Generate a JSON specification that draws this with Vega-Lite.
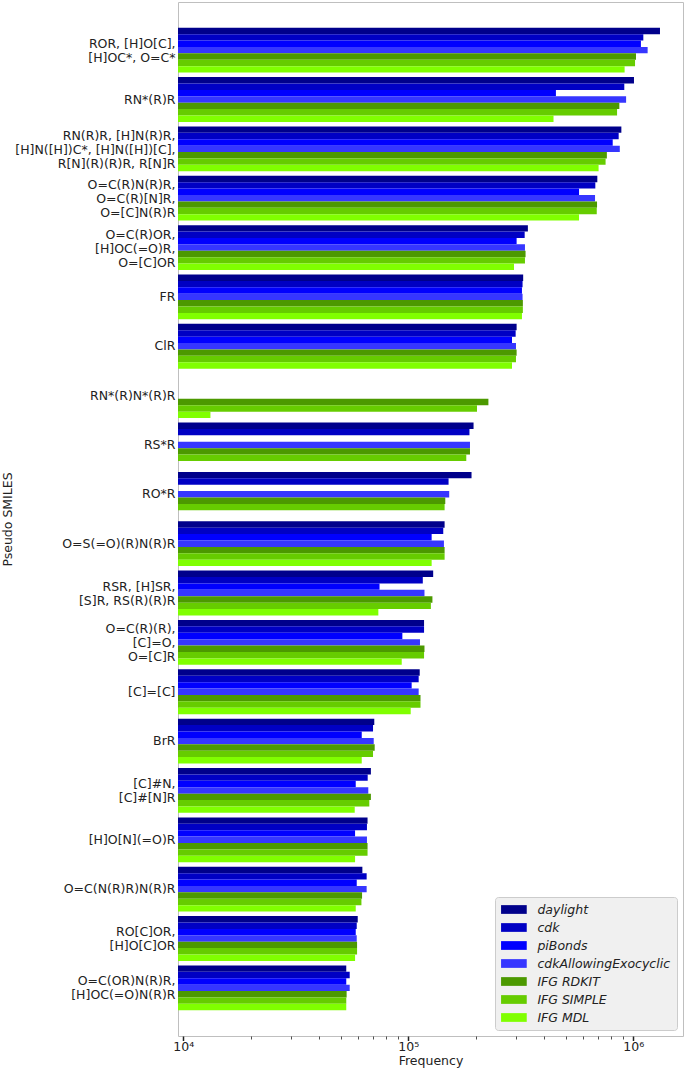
{
  "$schema": "https://vega.github.io/schema/vega-lite/v6.json",
  "autosize": {"type": "none"},
  "padding": {"left": 178, "top": 2, "right": 2, "bottom": 33},
  "width": 505,
  "height": 1034,
  "background": "white",
  "config": {
    "font": "DejaVu Sans",
    "view": {"stroke": "#bfbfbf", "strokeWidth": 1},
    "axis": {"labelFont": "DejaVu Sans", "titleFont": "DejaVu Sans", "labelColor": "#222222", "titleColor": "#222222", "titleFontWeight": "normal", "labelFontSize": 12.5, "titleFontSize": 12.5, "grid": false, "domain": false}
  },
  "data": {
    "values": [
      {"group": "ROR, [H]O[C],\n[H]OC*, O=C*", "method": "daylight", "frequency": 1314000},
      {"group": "ROR, [H]O[C],\n[H]OC*, O=C*", "method": "cdk", "frequency": 1108000},
      {"group": "ROR, [H]O[C],\n[H]OC*, O=C*", "method": "piBonds", "frequency": 1081000},
      {"group": "ROR, [H]O[C],\n[H]OC*, O=C*", "method": "cdkAllowingExocyclic", "frequency": 1158000},
      {"group": "ROR, [H]O[C],\n[H]OC*, O=C*", "method": "IFG RDKIT", "frequency": 1028000},
      {"group": "ROR, [H]O[C],\n[H]OC*, O=C*", "method": "IFG SIMPLE", "frequency": 1018000},
      {"group": "ROR, [H]O[C],\n[H]OC*, O=C*", "method": "IFG MDL", "frequency": 915000},
      {"group": "RN*(R)R", "method": "daylight", "frequency": 1007000},
      {"group": "RN*(R)R", "method": "cdk", "frequency": 912000},
      {"group": "RN*(R)R", "method": "piBonds", "frequency": 453000},
      {"group": "RN*(R)R", "method": "cdkAllowingExocyclic", "frequency": 929000},
      {"group": "RN*(R)R", "method": "IFG RDKIT", "frequency": 867000},
      {"group": "RN*(R)R", "method": "IFG SIMPLE", "frequency": 847000},
      {"group": "RN*(R)R", "method": "IFG MDL", "frequency": 442000},
      {"group": "RN(R)R, [H]N(R)R,\n[H]N([H])C*, [H]N([H])[C],\nR[N](R)(R)R, R[N]R", "method": "daylight", "frequency": 885000},
      {"group": "RN(R)R, [H]N(R)R,\n[H]N([H])C*, [H]N([H])[C],\nR[N](R)(R)R, R[N]R", "method": "cdk", "frequency": 861000},
      {"group": "RN(R)R, [H]N(R)R,\n[H]N([H])C*, [H]N([H])[C],\nR[N](R)(R)R, R[N]R", "method": "piBonds", "frequency": 810000},
      {"group": "RN(R)R, [H]N(R)R,\n[H]N([H])C*, [H]N([H])[C],\nR[N](R)(R)R, R[N]R", "method": "cdkAllowingExocyclic", "frequency": 871000},
      {"group": "RN(R)R, [H]N(R)R,\n[H]N([H])C*, [H]N([H])[C],\nR[N](R)(R)R, R[N]R", "method": "IFG RDKIT", "frequency": 763000},
      {"group": "RN(R)R, [H]N(R)R,\n[H]N([H])C*, [H]N([H])[C],\nR[N](R)(R)R, R[N]R", "method": "IFG SIMPLE", "frequency": 753000},
      {"group": "RN(R)R, [H]N(R)R,\n[H]N([H])C*, [H]N([H])[C],\nR[N](R)(R)R, R[N]R", "method": "IFG MDL", "frequency": 701000},
      {"group": "O=C(R)N(R)R,\nO=C(R)[N]R,\nO=[C]N(R)R", "method": "daylight", "frequency": 692000},
      {"group": "O=C(R)N(R)R,\nO=C(R)[N]R,\nO=[C]N(R)R", "method": "cdk", "frequency": 678000},
      {"group": "O=C(R)N(R)R,\nO=C(R)[N]R,\nO=[C]N(R)R", "method": "piBonds", "frequency": 574000},
      {"group": "O=C(R)N(R)R,\nO=C(R)[N]R,\nO=[C]N(R)R", "method": "cdkAllowingExocyclic", "frequency": 676000},
      {"group": "O=C(R)N(R)R,\nO=C(R)[N]R,\nO=[C]N(R)R", "method": "IFG RDKIT", "frequency": 690000},
      {"group": "O=C(R)N(R)R,\nO=C(R)[N]R,\nO=[C]N(R)R", "method": "IFG SIMPLE", "frequency": 688000},
      {"group": "O=C(R)N(R)R,\nO=C(R)[N]R,\nO=[C]N(R)R", "method": "IFG MDL", "frequency": 574000},
      {"group": "O=C(R)OR,\n[H]OC(=O)R,\nO=[C]OR", "method": "daylight", "frequency": 340000},
      {"group": "O=C(R)OR,\n[H]OC(=O)R,\nO=[C]OR", "method": "cdk", "frequency": 329000},
      {"group": "O=C(R)OR,\n[H]OC(=O)R,\nO=[C]OR", "method": "piBonds", "frequency": 303000},
      {"group": "O=C(R)OR,\n[H]OC(=O)R,\nO=[C]OR", "method": "cdkAllowingExocyclic", "frequency": 330000},
      {"group": "O=C(R)OR,\n[H]OC(=O)R,\nO=[C]OR", "method": "IFG RDKIT", "frequency": 332000},
      {"group": "O=C(R)OR,\n[H]OC(=O)R,\nO=[C]OR", "method": "IFG SIMPLE", "frequency": 330000},
      {"group": "O=C(R)OR,\n[H]OC(=O)R,\nO=[C]OR", "method": "IFG MDL", "frequency": 295000},
      {"group": "FR", "method": "daylight", "frequency": 324000},
      {"group": "FR", "method": "cdk", "frequency": 322000},
      {"group": "FR", "method": "piBonds", "frequency": 320000},
      {"group": "FR", "method": "cdkAllowingExocyclic", "frequency": 322000},
      {"group": "FR", "method": "IFG RDKIT", "frequency": 323000},
      {"group": "FR", "method": "IFG SIMPLE", "frequency": 323000},
      {"group": "FR", "method": "IFG MDL", "frequency": 320000},
      {"group": "ClR", "method": "daylight", "frequency": 303000},
      {"group": "ClR", "method": "cdk", "frequency": 300000},
      {"group": "ClR", "method": "piBonds", "frequency": 289000},
      {"group": "ClR", "method": "cdkAllowingExocyclic", "frequency": 301000},
      {"group": "ClR", "method": "IFG RDKIT", "frequency": 303000},
      {"group": "ClR", "method": "IFG SIMPLE", "frequency": 301000},
      {"group": "ClR", "method": "IFG MDL", "frequency": 289000},
      {"group": "RN*(R)N*(R)R", "method": "IFG RDKIT", "frequency": 227000},
      {"group": "RN*(R)N*(R)R", "method": "IFG SIMPLE", "frequency": 202000},
      {"group": "RN*(R)N*(R)R", "method": "IFG MDL", "frequency": 13200},
      {"group": "RS*R", "method": "daylight", "frequency": 195000},
      {"group": "RS*R", "method": "cdk", "frequency": 187000},
      {"group": "RS*R", "method": "cdkAllowingExocyclic", "frequency": 188000},
      {"group": "RS*R", "method": "IFG RDKIT", "frequency": 188000},
      {"group": "RS*R", "method": "IFG SIMPLE", "frequency": 181000},
      {"group": "RO*R", "method": "daylight", "frequency": 191000},
      {"group": "RO*R", "method": "cdk", "frequency": 151000},
      {"group": "RO*R", "method": "cdkAllowingExocyclic", "frequency": 152000},
      {"group": "RO*R", "method": "IFG RDKIT", "frequency": 146000},
      {"group": "RO*R", "method": "IFG SIMPLE", "frequency": 145000},
      {"group": "O=S(=O)(R)N(R)R", "method": "daylight", "frequency": 145000},
      {"group": "O=S(=O)(R)N(R)R", "method": "cdk", "frequency": 143000},
      {"group": "O=S(=O)(R)N(R)R", "method": "piBonds", "frequency": 127000},
      {"group": "O=S(=O)(R)N(R)R", "method": "cdkAllowingExocyclic", "frequency": 144000},
      {"group": "O=S(=O)(R)N(R)R", "method": "IFG RDKIT", "frequency": 145000},
      {"group": "O=S(=O)(R)N(R)R", "method": "IFG SIMPLE", "frequency": 145000},
      {"group": "O=S(=O)(R)N(R)R", "method": "IFG MDL", "frequency": 127000},
      {"group": "RSR, [H]SR,\n[S]R, RS(R)(R)R", "method": "daylight", "frequency": 129000},
      {"group": "RSR, [H]SR,\n[S]R, RS(R)(R)R", "method": "cdk", "frequency": 116000},
      {"group": "RSR, [H]SR,\n[S]R, RS(R)(R)R", "method": "piBonds", "frequency": 74500},
      {"group": "RSR, [H]SR,\n[S]R, RS(R)(R)R", "method": "cdkAllowingExocyclic", "frequency": 118000},
      {"group": "RSR, [H]SR,\n[S]R, RS(R)(R)R", "method": "IFG RDKIT", "frequency": 128000},
      {"group": "RSR, [H]SR,\n[S]R, RS(R)(R)R", "method": "IFG SIMPLE", "frequency": 126000},
      {"group": "RSR, [H]SR,\n[S]R, RS(R)(R)R", "method": "IFG MDL", "frequency": 73600},
      {"group": "O=C(R)(R),\n[C]=O,\nO=[C]R", "method": "daylight", "frequency": 117500},
      {"group": "O=C(R)(R),\n[C]=O,\nO=[C]R", "method": "cdk", "frequency": 117500},
      {"group": "O=C(R)(R),\n[C]=O,\nO=[C]R", "method": "piBonds", "frequency": 94100},
      {"group": "O=C(R)(R),\n[C]=O,\nO=[C]R", "method": "cdkAllowingExocyclic", "frequency": 112700},
      {"group": "O=C(R)(R),\n[C]=O,\nO=[C]R", "method": "IFG RDKIT", "frequency": 118000},
      {"group": "O=C(R)(R),\n[C]=O,\nO=[C]R", "method": "IFG SIMPLE", "frequency": 117500},
      {"group": "O=C(R)(R),\n[C]=O,\nO=[C]R", "method": "IFG MDL", "frequency": 93500},
      {"group": "[C]=[C]", "method": "daylight", "frequency": 112400},
      {"group": "[C]=[C]", "method": "cdk", "frequency": 111200},
      {"group": "[C]=[C]", "method": "piBonds", "frequency": 103500},
      {"group": "[C]=[C]", "method": "cdkAllowingExocyclic", "frequency": 111200},
      {"group": "[C]=[C]", "method": "IFG RDKIT", "frequency": 113300},
      {"group": "[C]=[C]", "method": "IFG SIMPLE", "frequency": 113300},
      {"group": "[C]=[C]", "method": "IFG MDL", "frequency": 102500},
      {"group": "BrR", "method": "daylight", "frequency": 70600},
      {"group": "BrR", "method": "cdk", "frequency": 69700},
      {"group": "BrR", "method": "piBonds", "frequency": 62100},
      {"group": "BrR", "method": "cdkAllowingExocyclic", "frequency": 70200},
      {"group": "BrR", "method": "IFG RDKIT", "frequency": 70900},
      {"group": "BrR", "method": "IFG SIMPLE", "frequency": 69700},
      {"group": "BrR", "method": "IFG MDL", "frequency": 62100},
      {"group": "[C]#N,\n[C]#[N]R", "method": "daylight", "frequency": 68200},
      {"group": "[C]#N,\n[C]#[N]R", "method": "cdk", "frequency": 66000},
      {"group": "[C]#N,\n[C]#[N]R", "method": "piBonds", "frequency": 58400},
      {"group": "[C]#N,\n[C]#[N]R", "method": "cdkAllowingExocyclic", "frequency": 66400},
      {"group": "[C]#N,\n[C]#[N]R", "method": "IFG RDKIT", "frequency": 68200},
      {"group": "[C]#N,\n[C]#[N]R", "method": "IFG SIMPLE", "frequency": 67100},
      {"group": "[C]#N,\n[C]#[N]R", "method": "IFG MDL", "frequency": 57800},
      {"group": "[H]O[N](=O)R", "method": "daylight", "frequency": 65900},
      {"group": "[H]O[N](=O)R", "method": "cdk", "frequency": 65500},
      {"group": "[H]O[N](=O)R", "method": "piBonds", "frequency": 58000},
      {"group": "[H]O[N](=O)R", "method": "cdkAllowingExocyclic", "frequency": 65500},
      {"group": "[H]O[N](=O)R", "method": "IFG RDKIT", "frequency": 65900},
      {"group": "[H]O[N](=O)R", "method": "IFG SIMPLE", "frequency": 65900},
      {"group": "[H]O[N](=O)R", "method": "IFG MDL", "frequency": 58000},
      {"group": "O=C(N(R)R)N(R)R", "method": "daylight", "frequency": 62500},
      {"group": "O=C(N(R)R)N(R)R", "method": "cdk", "frequency": 65300},
      {"group": "O=C(N(R)R)N(R)R", "method": "piBonds", "frequency": 59000},
      {"group": "O=C(N(R)R)N(R)R", "method": "cdkAllowingExocyclic", "frequency": 65300},
      {"group": "O=C(N(R)R)N(R)R", "method": "IFG RDKIT", "frequency": 62300},
      {"group": "O=C(N(R)R)N(R)R", "method": "IFG SIMPLE", "frequency": 61900},
      {"group": "O=C(N(R)R)N(R)R", "method": "IFG MDL", "frequency": 58400},
      {"group": "RO[C]OR,\n[H]O[C]OR", "method": "daylight", "frequency": 59600},
      {"group": "RO[C]OR,\n[H]O[C]OR", "method": "cdk", "frequency": 59000},
      {"group": "RO[C]OR,\n[H]O[C]OR", "method": "piBonds", "frequency": 58400},
      {"group": "RO[C]OR,\n[H]O[C]OR", "method": "cdkAllowingExocyclic", "frequency": 59000},
      {"group": "RO[C]OR,\n[H]O[C]OR", "method": "IFG RDKIT", "frequency": 59200},
      {"group": "RO[C]OR,\n[H]O[C]OR", "method": "IFG SIMPLE", "frequency": 59200},
      {"group": "RO[C]OR,\n[H]O[C]OR", "method": "IFG MDL", "frequency": 58000},
      {"group": "O=C(OR)N(R)R,\n[H]OC(=O)N(R)R", "method": "daylight", "frequency": 53000},
      {"group": "O=C(OR)N(R)R,\n[H]OC(=O)N(R)R", "method": "cdk", "frequency": 54900},
      {"group": "O=C(OR)N(R)R,\n[H]OC(=O)N(R)R", "method": "piBonds", "frequency": 53000},
      {"group": "O=C(OR)N(R)R,\n[H]OC(=O)N(R)R", "method": "cdkAllowingExocyclic", "frequency": 54900},
      {"group": "O=C(OR)N(R)R,\n[H]OC(=O)N(R)R", "method": "IFG RDKIT", "frequency": 53200},
      {"group": "O=C(OR)N(R)R,\n[H]OC(=O)N(R)R", "method": "IFG SIMPLE", "frequency": 53000},
      {"group": "O=C(OR)N(R)R,\n[H]OC(=O)N(R)R", "method": "IFG MDL", "frequency": 53000}
    ]
  },
  "mark": {"type": "bar"},
  "encoding": {
    "y": {
      "field": "group",
      "type": "nominal",
      "sort": null,
      "scale": {"paddingInner": 0.092, "paddingOuter": 0.522},
      "axis": {
        "title": "Pseudo SMILES",
        "titlePadding": 0,
        "ticks": false,
        "labelPadding": 3,
        "labelExpr": "split(datum.label, '\\n')",
        "labelLineHeight": 14,
        "labelLimit": 300,
        "labelOffset": {"condition": [
          {"test": "length(split(datum.label, '\\n')) == 3", "value": -13},
          {"test": "length(split(datum.label, '\\n')) == 2", "value": -6.5}
        ], "value": 0}
      }
    },
    "yOffset": {
      "field": "method",
      "type": "nominal",
      "scale": {"domain": ["daylight", "cdk", "piBonds", "cdkAllowingExocyclic", "IFG RDKIT", "IFG SIMPLE", "IFG MDL"], "paddingInner": 0, "paddingOuter": 0}
    },
    "x": {
      "field": "frequency",
      "type": "quantitative",
      "scale": {"type": "log", "domain": [9472, 1663000], "nice": false},
      "axis": {
        "title": "Frequency",
        "titlePadding": 1,
        "values": [10000, 20000, 30000, 40000, 50000, 60000, 70000, 80000, 90000, 100000, 200000, 300000, 400000, 500000, 600000, 700000, 800000, 900000, 1000000],
        "labelExpr": "datum.value == 10000 ? '10⁴' : datum.value == 100000 ? '10⁵' : datum.value == 1000000 ? '10⁶' : ''",
        "labelOverlap": false,
        "labelFlush": false,
        "labelPadding": 0,
        "tickColor": "#222222",
        "tickSize": {"condition": {"test": "datum.value == 10000 || datum.value == 100000 || datum.value == 1000000", "value": 4.5}, "value": 3},
        "tickWidth": {"condition": {"test": "datum.value == 10000 || datum.value == 100000 || datum.value == 1000000", "value": 1.5}, "value": 0.8}
      }
    },
    "x2": {"datum": 9472},
    "color": {
      "field": "method",
      "type": "nominal",
      "scale": {
        "domain": ["daylight", "cdk", "piBonds", "cdkAllowingExocyclic", "IFG RDKIT", "IFG SIMPLE", "IFG MDL"],
        "range": ["#00008b", "#0000c4", "#0000ff", "#3636ff", "#4c9900", "#66cc00", "#80ff00"]
      },
      "legend": {
        "title": null,
        "orient": "bottom-right",
        "offset": 6,
        "fillColor": "#f0f0f0",
        "strokeColor": "#cccccc",
        "cornerRadius": 3,
        "padding": 6,
        "symbolType": "M-2,-0.68L2,-0.68L2,0.68L-2,0.68Z",
        "symbolSize": 165,
        "symbolOffset": 6.4,
        "symbolStrokeWidth": 0,
        "symbolOpacity": 1,
        "labelFontStyle": "italic",
        "labelFontSize": 12.5,
        "labelFont": "DejaVu Sans",
        "labelColor": "#222222",
        "labelOffset": 17,
        "rowPadding": 5,
        "labelLimit": 300
      }
    }
  }
}
